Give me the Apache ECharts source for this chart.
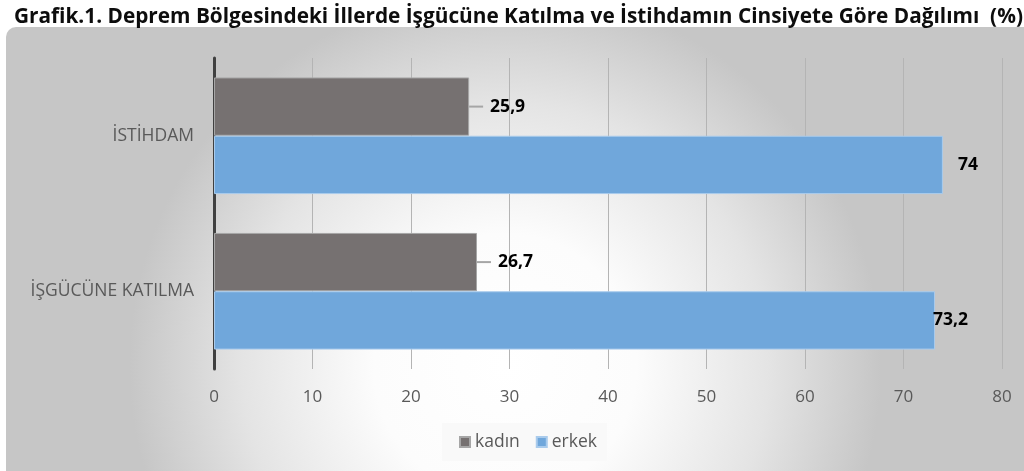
<!DOCTYPE html>
<html>
<head>
<meta charset="utf-8">
<script src="https://cdn.jsdelivr.net/npm/echarts@6/dist/echarts.min.js"></script>
<style>
html,body{margin:0;padding:0;background:#fff;}
#c{position:absolute;left:0;top:0;width:1024px;height:471px;}
</style>
</head>
<body>
<div id="c"></div>
<script>
const categories = ['İŞGÜCÜNE KATILMA', 'İSTİHDAM'];
const kadin = [26.7, 25.9];
const erkek = [73.2, 74];
const xTicks = [0, 10, 20, 30, 40, 50, 60, 70, 80];
const titleText = 'Grafik.1. Deprem Bölgesindeki İllerde İşgücüne Katılma ve İstihdamın Cinsiyete Göre Dağılımı  (%)';

const erkekLabelDist = [-2, 15];
const fmt = v => String(v).replace('.', ',');

const chart = echarts.init(document.getElementById('c'));
chart.setOption({
  animation: false,
  title: {
    text: titleText, left: 9, top: 2,
    textStyle: {fontFamily: 'Open Sans', fontWeight: 'bold', fontSize: 20.8, color: '#0d0d0d'}
  },
  graphic: [{
    type: 'rect', z: -10, silent: true,
    shape: {x: 6, y: 27, width: 1040, height: 470, r: 10},
    style: {fill: new echarts.graphic.RadialGradient(0.48, 0.72, 0.8, [
      {offset: 0, color: '#ffffff'},
      {offset: 0.35, color: '#fcfcfc'},
      {offset: 0.7, color: '#e4e4e4'},
      {offset: 1, color: '#c6c6c6'}
    ])}
  }],
  grid: {left: 214, right: 22, top: 58, bottom: 102},
  legend: {
    data: ['kadın', 'erkek'], top: 423, left: 442,
    backgroundColor: '#f9f9f9', padding: [8, 10, 8, 17], itemGap: 16,
    itemWidth: 10, itemHeight: 10, icon: 'rect',
    textStyle: {fontFamily: 'Open Sans', fontSize: 17.5, color: '#595959', lineHeight: 22}
  },
  xAxis: {
    type: 'value', min: 0, max: 80, interval: 10,
    axisLine: {show: false}, axisTick: {show: false},
    axisLabel: {fontFamily: 'Open Sans', fontSize: 17, color: '#595959', margin: 20,
      formatter: v => xTicks.includes(v) ? String(v) : ''},
    splitLine: {lineStyle: {color: '#b4b4b4', width: 1}}
  },
  yAxis: {
    type: 'category', data: categories,
    axisLine: {show: true, lineStyle: {color: '#404040', width: 3}},
    axisTick: {show: false},
    axisLabel: {fontFamily: 'Open Sans', fontSize: 17.5, color: '#595959', margin: 20}
  },
  series: [
    {
      name: 'kadın', type: 'bar', barGap: '0%', barCategoryGap: '25%',
      itemStyle: {color: '#767171', borderColor: '#a6a6a6', borderWidth: 1},
      data: kadin,
      label: {show: true, position: 'right', distance: 0,
        formatter: p => '{l|}{v|' + fmt(p.value) + '}',
        rich: {
          l: {width: 14, height: 2, backgroundColor: '#a6a6a6'},
          v: {fontFamily: 'Open Sans', fontWeight: 'bold', fontSize: 17.5, color: '#000', padding: [0, 0, 0, 7]}
        }}
    },
    {
      name: 'erkek', type: 'bar', barGap: '0%', barCategoryGap: '25%',
      itemStyle: {color: '#70a7db', borderColor: '#a9cbec', borderWidth: 1},
      data: erkek.map((v, i) => ({value: v, label: {distance: erkekLabelDist[i]}})),
      label: {show: true, position: 'right', fontFamily: 'Open Sans', fontWeight: 'bold',
        fontSize: 17.5, color: '#000', formatter: p => fmt(p.value)}
    }
  ]
});
</script>
</body>
</html>
